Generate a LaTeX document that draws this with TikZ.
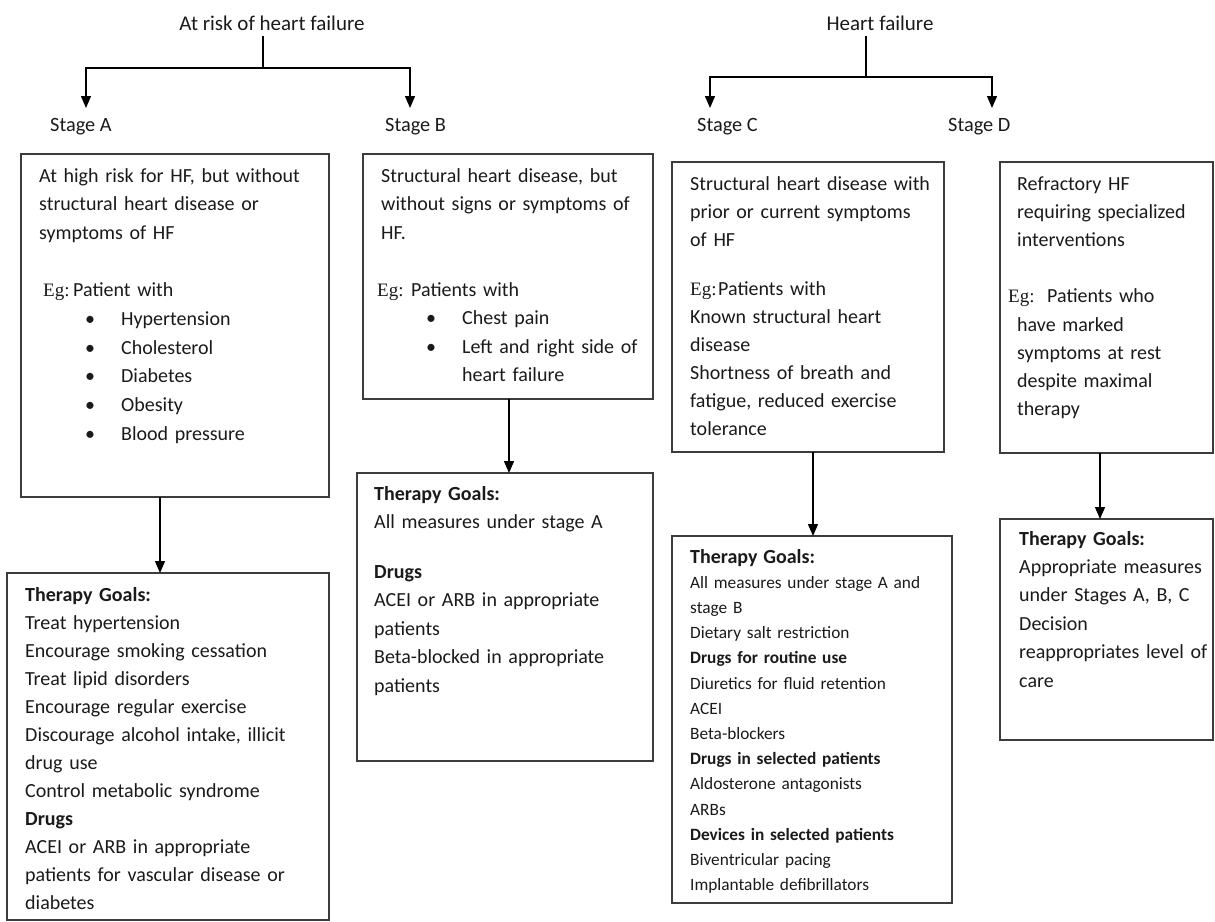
\documentclass[tikz,border=0pt]{standalone}
\usepackage{fontspec}
\setmainfont{Carlito}
\newfontfamily\egfam{Liberation Serif}
\newcommand{\egf}{\egfam\fontsize{19}{19}\selectfont}
\usetikzlibrary{arrows.meta}
\definecolor{txt}{HTML}{1A1A1A}
\definecolor{edge}{HTML}{3C3C3C}
\tikzset{
  frame/.style={draw=edge, line width=1.3pt, anchor=north west, inner sep=0pt, outer sep=0pt},
  body/.style={anchor=base west, inner sep=0pt, text width=330pt, align=left, text=txt},
  head/.style={anchor=base, inner sep=0pt, outer sep=6pt, text=txt, font=\fontsize{21}{24}\selectfont},
  stagelbl/.style={anchor=base west, inner sep=0pt, text=txt, font=\fontsize{20.3}{24}\selectfont},
  link/.style={draw=black, line width=1.4pt, -{Triangle[length=12pt,width=10pt]}},
  plain/.style={draw=black, line width=1.4pt},
}
\newcommand{\bl}{\makebox[36pt][l]{\textbullet}}
\begin{document}
\begin{tikzpicture}[x=1pt,y=1pt]
\useasboundingbox (0,0) rectangle (1215,-921);

% titles
\node[head] (riskTitle) at (272,-30) {At risk of heart failure};
\node[head] (hfTitle) at (880,-30) {Heart failure};

% stage labels
\node[stagelbl] (stageA) at (50,-131) {Stage A};
\node[stagelbl] (stageB) at (385,-131) {Stage B};
\node[stagelbl] (stageC) at (697,-131) {Stage C};
\node[stagelbl] (stageD) at (948,-131) {Stage D};

% junctions and arrow tips
\coordinate (jRisk) at (263,-68);
\coordinate (jHf) at (866,-77);
\coordinate (tipA) at (86,-108);
\coordinate (tipB) at (410,-108);
\coordinate (tipC) at (710,-108);
\coordinate (tipD) at (992,-108);

\draw[plain] (riskTitle.south -| jRisk) -- (jRisk);
\draw[link] (jRisk) -| (tipA);
\draw[link] (jRisk) -| (tipB);
\draw[plain] (hfTitle.south -| jHf) -- (jHf);
\draw[link] (jHf) -| (tipC);
\draw[link] (jHf) -| (tipD);

% stage boxes
\node[frame, minimum width=308pt, minimum height=343pt] (boxA) at (21,-154) {};
\node[frame, minimum width=290pt, minimum height=245pt] (boxB) at (363,-154) {};
\node[frame, minimum width=272pt, minimum height=290pt] (boxC) at (672,-162) {};
\node[frame, minimum width=213pt, minimum height=291pt] (boxD) at (1000,-162) {};

% therapy boxes
\node[frame, minimum width=322pt, minimum height=347pt] (thA) at (7,-573) {};
\node[frame, minimum width=296pt, minimum height=288pt] (thB) at (357,-473) {};
\node[frame, minimum width=280pt, minimum height=367pt] (thC) at (672,-536) {};
\node[frame, minimum width=213pt, minimum height=221pt] (thD) at (1000,-519) {};

% box to therapy arrows
\coordinate (xA) at (160,0);
\coordinate (xB) at (509,0);
\coordinate (xC) at (813,0);
\coordinate (xD) at (1100,0);
\draw[link] (xA |- boxA.south) -- (xA |- thA.north);
\draw[link] (xB |- boxB.south) -- (xB |- thB.north);
\draw[link] (xC |- boxC.south) -- (xC |- thC.north);
\draw[link] (xD |- boxD.south) -- (xD |- thD.north);

% texts of stage boxes
\node[body, font=\fontsize{20}{28.7}\selectfont] (txtA) at (39,-182) {%
At high risk for HF, but without\\
structural heart disease or\\
symptoms of HF\\[28.7pt]
\hspace*{4pt}\makebox[30pt][l]{\egf Eg:}Patient with\\
\hspace*{46pt}\bl Hypertension\\
\hspace*{46pt}\bl Cholesterol\\
\hspace*{46pt}\bl Diabetes\\
\hspace*{46pt}\bl Obesity\\
\hspace*{46pt}\bl Blood pressure};

\node[body, font=\fontsize{20}{28.5}\selectfont] (txtB) at (381,-182) {%
Structural heart disease, but\\
without signs or symptoms of\\
HF.\\[28.5pt]
\hspace*{-4pt}\makebox[34pt][l]{\egf Eg:}Patients with\\
\hspace*{45pt}\bl Chest pain\\
\hspace*{45pt}\bl Left and right side of\\
\hspace*{81pt}heart failure};

\node[body, font=\fontsize{20}{28}\selectfont] (txtC) at (690,-190) {%
Structural heart disease with\\
prior or current symptoms\\
of HF\\[21pt]
\makebox[28pt][l]{\egf Eg:}Patients with\\
Known structural heart\\
disease\\
Shortness of breath and\\
fatigue, reduced exercise\\
tolerance};

\node[body, font=\fontsize{20}{28.2}\selectfont] (txtD) at (1017,-190) {%
Refractory HF\\
requiring specialized\\
interventions\\[28.2pt]
\hspace*{-9pt}\makebox[39pt][l]{\egf Eg:}Patients who\\
have marked\\
symptoms at rest\\
despite maximal\\
therapy};

% texts of therapy boxes
\node[body, font=\fontsize{20}{28}\selectfont] (gA) at (25,-601) {%
\textbf{Therapy Goals:}\\
Treat hypertension\\
Encourage smoking cessation\\
Treat lipid disorders\\
Encourage regular exercise\\
Discourage alcohol intake, illicit\\
drug use\\
Control metabolic syndrome\\
\textbf{Drugs}\\
ACEI or ARB in appropriate\\
patients for vascular disease or\\
diabetes};

\node[body, font=\fontsize{20}{28.5}\selectfont] (gB) at (374,-500) {%
\textbf{Therapy Goals:}\\
All measures under stage A\\[21pt]
\textbf{Drugs}\\
ACEI or ARB in appropriate\\
patients\\
Beta-blocked in appropriate\\
patients};

\node[body, font=\fontsize{17.3}{25.2}\selectfont] (gC) at (690,-563) {%
{\fontsize{20}{25.2}\selectfont\bfseries Therapy Goals:}\\
All measures under stage A and\\
stage B\\
Dietary salt restriction\\
\textbf{Drugs for routine use}\\
Diuretics for fluid retention\\
ACEI\\
Beta-blockers\\
\textbf{Drugs in selected patients}\\
Aldosterone antagonists\\
ARBs\\
\textbf{Devices in selected patients}\\
Biventricular pacing\\
Implantable defibrillators};

\node[body, font=\fontsize{20}{28.4}\selectfont] (gD) at (1019,-545) {%
\textbf{Therapy Goals:}\\
Appropriate measures\\
under Stages A, B, C\\
Decision\\
reappropriates level of\\
care};
\end{tikzpicture}
\end{document}
